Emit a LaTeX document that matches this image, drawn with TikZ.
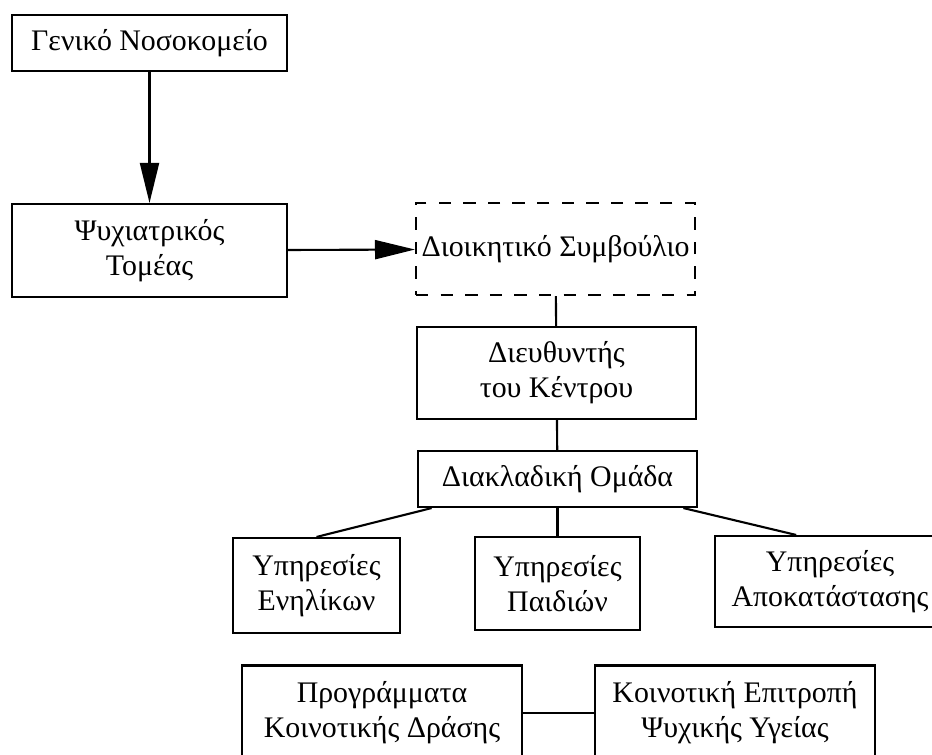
\documentclass[tikz,border=0pt]{standalone}
\usepackage{fontspec}
\setmainfont{Liberation Serif}
\usetikzlibrary{arrows.meta}

\begin{document}
\begin{tikzpicture}[x=0.02cm, y=-0.02cm,
    box/.style={draw, line width=1.2pt, align=center, inner sep=0pt,
        font=\fontsize{17}{20}\selectfont},
    dashbox/.style={box, dash pattern=on 7pt off 7pt},
    link/.style={line width=1.2pt},
    bigarrow/.style={link, -{Triangle[length=0.8cm, width=0.38cm]}}]
    \clip (0,0) rectangle (932,754);
    \node [box, minimum width=5.5cm, minimum height=1.12cm] (hospital) at (149.5,43) {Γενικό Νοσοκομείο};
    \node [box, minimum width=5.5cm, minimum height=1.86cm] (sector) at (149.5,250.5) {Ψυχιατρικός\\Τομέας};
    \node [dashbox, minimum width=5.58cm, minimum height=1.84cm] (board) at (555.5,249) {Διοικητικό Συμβούλιο};
    \node [box, minimum width=5.58cm, minimum height=1.84cm] (director) at (556.5,373) {Διευθυντής\\του Κέντρου};
    \node [box, minimum width=5.58cm, minimum height=1.12cm] (team) at (557.5,479) {Διακλαδική Ομάδα};
    \node [box, minimum width=3.34cm, minimum height=1.9cm] (adults) at (316.5,585.5) {Υπηρεσίες\\Ενηλίκων};
    \node [box, minimum width=3.3cm, minimum height=1.86cm] (children) at (557.5,583.5) {Υπηρεσίες\\Παιδιών};
    \node [box, minimum width=4.6cm, minimum height=1.82cm] (rehab) at (830,581.5) {Υπηρεσίες\\Αποκατάστασης};
    \node [box, minimum width=5.6cm, minimum height=1.9cm] (programs) at (382,713) {Προγράμματα\\Κοινοτικής Δράσης};
    \node [box, minimum width=5.6cm, minimum height=1.9cm] (committee) at (735,713) {Κοινοτική Επιτροπή\\Ψυχικής Υγείας};
    \draw [bigarrow] (hospital) -- (sector);
    \draw [bigarrow] (sector) -- (board);
    \draw [link] (board) -- (director);
    \draw [link] (director) -- (team);
    \draw [link] (team.193) -- (adults.north);
    \draw [link] (team) -- (children);
    \draw [link] (team.347) -- (rehab.126);
    \draw [link] (programs) -- (committee);
\end{tikzpicture}
\end{document}
